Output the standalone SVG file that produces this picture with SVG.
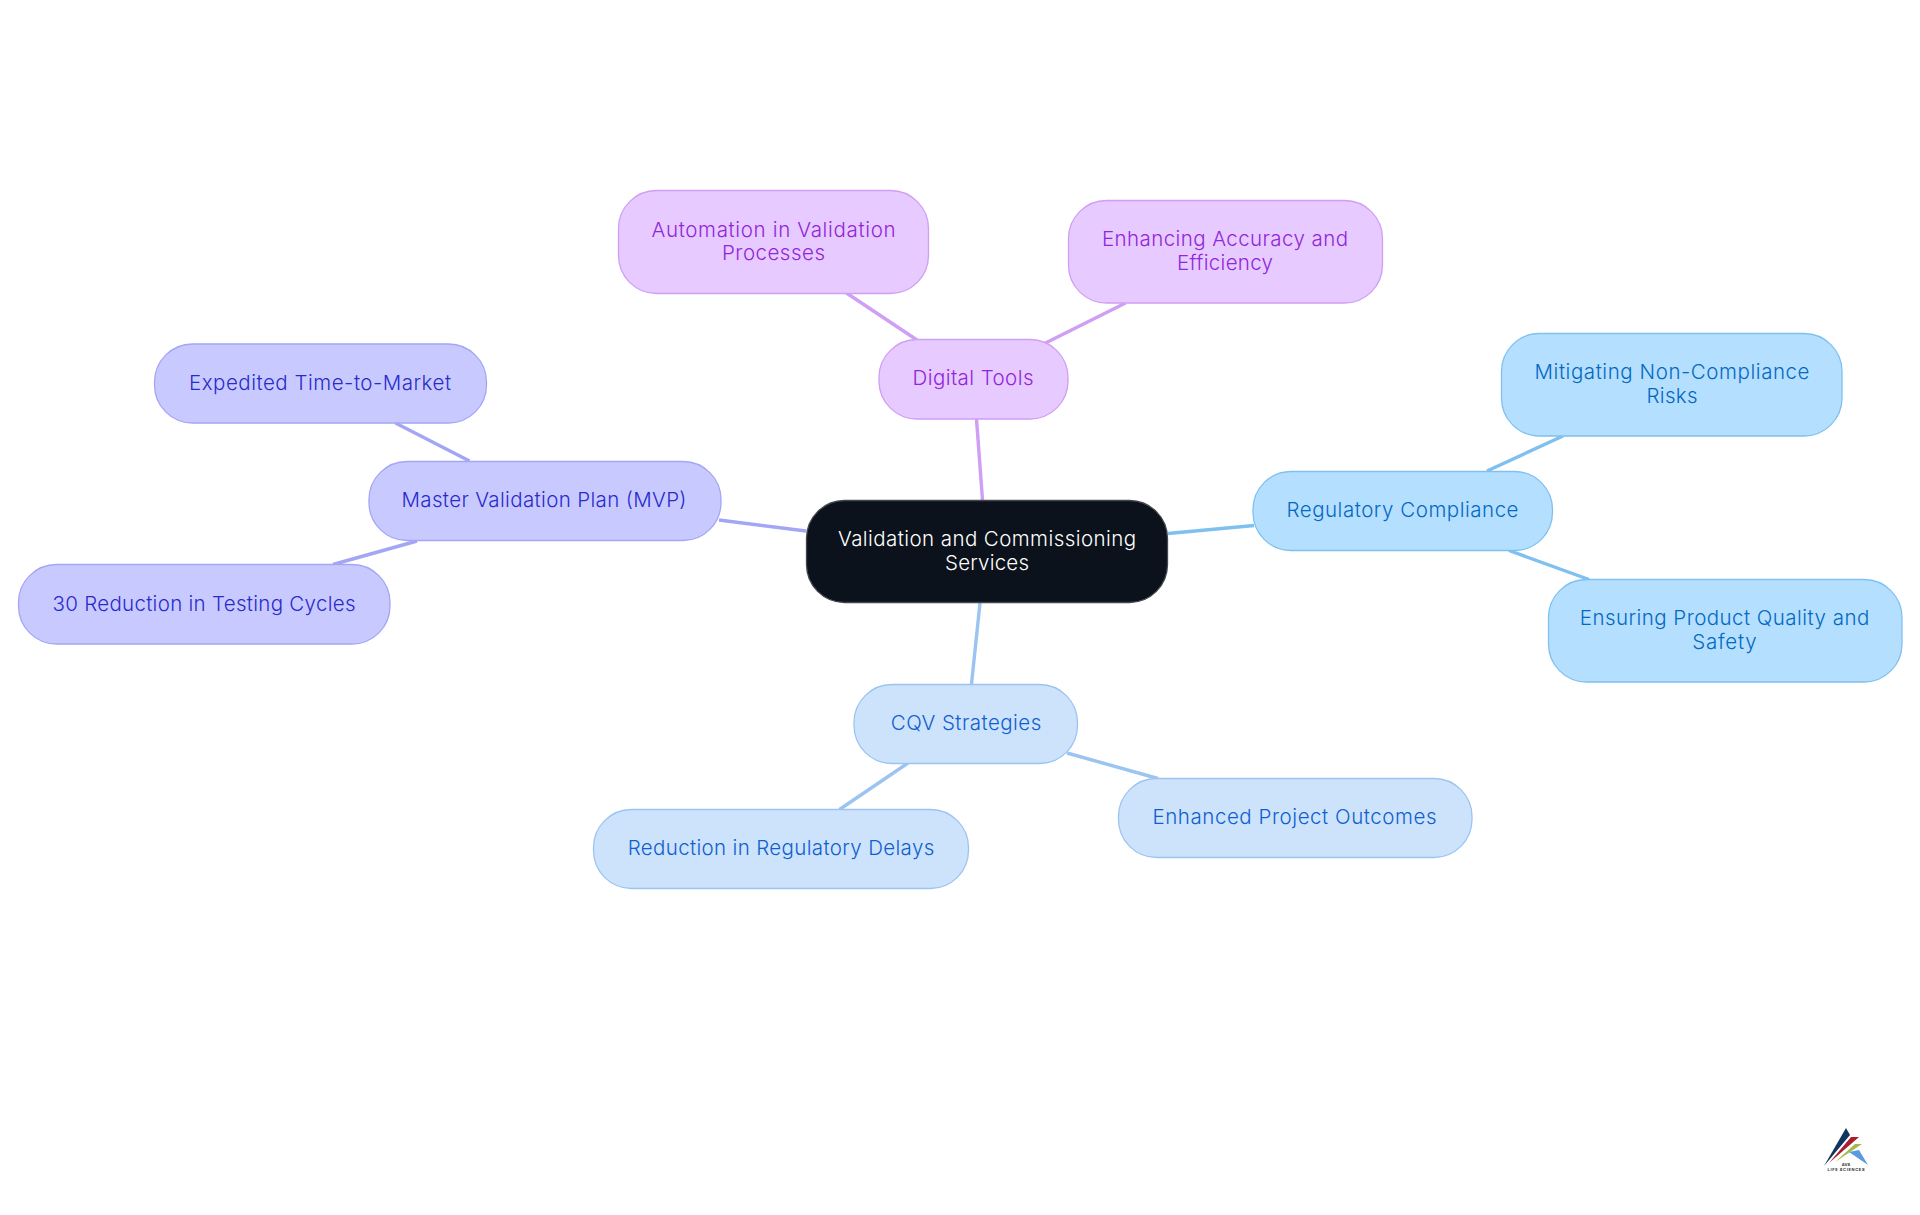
<svg xmlns="http://www.w3.org/2000/svg" width="1920" height="1215" viewBox="0 0 1920 1215">
<style>
text{font-family:"Inter","Noto Sans","Liberation Sans",sans-serif;font-size:20.5px;font-weight:350;text-anchor:middle}
.n{stroke-width:1.3}
.c line{stroke-width:3.4;fill:none}
.root rect{fill:#0b121b;stroke:#43474d}.root text{fill:#fff}
.pu rect{fill:#e7caff;stroke:#cf9ef5}.pu text{fill:#9126da}
.in rect{fill:#c8caff;stroke:#a3a5f5}.in text{fill:#2a2acb}
.bl rect{fill:#cde3fc;stroke:#9cc4f0}.bl text{fill:#0f5fcf}
.sk rect{fill:#b5dfff;stroke:#7fc0f0}.sk text{fill:#0369c1}
.logo{font-size:4px;font-weight:700;fill:#333}
</style>
<rect width="1920" height="1215" fill="#fff"/>
<g id="connectors" class="c">
<line x1="976.5" y1="419" x2="982.5" y2="500" stroke="#cf9ef5"/>
<line x1="719" y1="520" x2="806" y2="531" stroke="#a3a5f5"/>
<line x1="1168" y1="533.5" x2="1254" y2="525.5" stroke="#7fc0f0"/>
<line x1="980" y1="603" x2="971.5" y2="684" stroke="#9cc4f0"/>
<line x1="846.500" y1="293" x2="917" y2="340" stroke="#cf9ef5"/>
<line x1="1125.5" y1="303" x2="1043.500" y2="344" stroke="#cf9ef5"/>
<line x1="395.5" y1="423" x2="469.5" y2="461" stroke="#a3a5f5"/>
<line x1="417" y1="541" x2="333" y2="564.500" stroke="#a3a5f5"/>
<line x1="1563" y1="436" x2="1487" y2="471" stroke="#7fc0f0"/>
<line x1="1509" y1="550.5" x2="1589" y2="579.500" stroke="#7fc0f0"/>
<line x1="908" y1="763" x2="839.5" y2="809.5" stroke="#9cc4f0"/>
<line x1="1067" y1="753" x2="1158" y2="778.500" stroke="#9cc4f0"/>
</g>
<g id="root" class="root"><rect class="n" x="806.500" y="500.500" width="361" height="102" rx="38"/>
<text x="987" y="545.500" textLength="298">Validation and Commissioning</text><text x="987" y="569.500" textLength="84">Services</text></g>
<g id="digital-tools" class="pu"><rect class="n" x="879" y="339.5" width="189" height="79.5" rx="38"/>
<text x="973" y="385" textLength="121">Digital Tools</text></g>
<g id="automation" class="pu"><rect class="n" x="618.5" y="190.5" width="310" height="103" rx="38"/>
<text x="773.500" y="237" textLength="244">Automation in Validation</text><text x="773.500" y="260" textLength="103">Processes</text></g>
<g id="accuracy" class="pu"><rect class="n" x="1068.5" y="200.5" width="314" height="102.5" rx="38"/>
<text x="1225" y="246" textLength="246">Enhancing Accuracy and</text><text x="1225" y="270" textLength="96">Efficiency</text></g>
<g id="mvp" class="in"><rect class="n" x="369" y="461.5" width="352" height="79" rx="38"/>
<text x="544" y="507" textLength="285">Master Validation Plan (MVP)</text></g>
<g id="time-to-market" class="in"><rect class="n" x="154.5" y="344" width="332" height="79" rx="38"/>
<text x="320" y="390" textLength="262">Expedited Time-to-Market</text></g>
<g id="testing-cycles" class="in"><rect class="n" x="18.5" y="564.5" width="371.5" height="79.5" rx="38"/>
<text x="204" y="611" textLength="303">30 Reduction in Testing Cycles</text></g>
<g id="cqv" class="bl"><rect class="n" x="854" y="684.5" width="223.5" height="79" rx="38"/>
<text x="966" y="730" textLength="150.500">CQV Strategies</text></g>
<g id="regulatory-delays" class="bl"><rect class="n" x="593.5" y="809.5" width="375" height="79" rx="38"/>
<text x="781" y="855" textLength="306.500">Reduction in Regulatory Delays</text></g>
<g id="project-outcomes" class="bl"><rect class="n" x="1118.5" y="778.5" width="353.5" height="79" rx="38"/>
<text x="1294.500" y="824" textLength="284">Enhanced Project Outcomes</text></g>
<g id="regulatory" class="sk"><rect class="n" x="1253" y="471.5" width="299.5" height="79" rx="38"/>
<text x="1402.500" y="517" textLength="232">Regulatory Compliance</text></g>
<g id="non-compliance" class="sk"><rect class="n" x="1501.5" y="333.5" width="340.5" height="102.5" rx="38"/>
<text x="1672" y="379" textLength="275">Mitigating Non-Compliance</text><text x="1672" y="403" textLength="51">Risks</text></g>
<g id="quality" class="sk"><rect class="n" x="1548.5" y="579.5" width="353.5" height="102.5" rx="38"/>
<text x="1724.500" y="625" textLength="289.500">Ensuring Product Quality and</text><text x="1724.500" y="649" textLength="64.500">Safety</text></g>
<g id="logo">
<polygon points="1824,1166 1846,1128 1850,1135" fill="#12355f"/>
<polygon points="1829,1163 1851,1137 1859,1137" fill="#a8202f"/>
<polygon points="1835,1162 1855,1144 1862,1144" fill="#a5b94a"/>
<polygon points="1849,1152 1859,1150 1868,1165" fill="#5b9bdc"/>
<text class="logo" x="1846" y="1166">AVS</text>
<text class="logo" x="1846" y="1170.500" textLength="37">LIFE SCIENCES</text>
</g>
</svg>
